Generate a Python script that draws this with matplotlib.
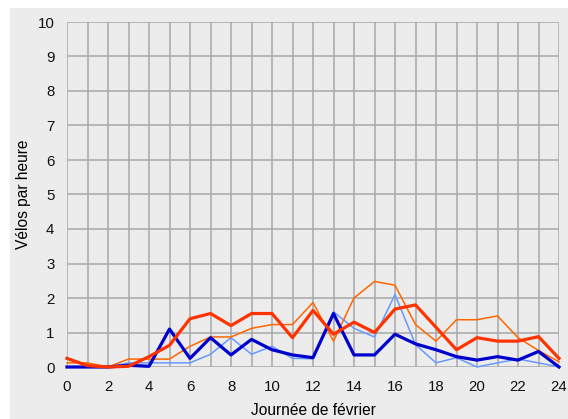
import matplotlib
matplotlib.use("Agg")
import matplotlib.pyplot as plt
from matplotlib.patches import Rectangle

hours = list(range(25))
dark_blue = [0, 0, 0, 0.05, 0.02, 1.1, 0.25, 0.85, 0.35, 0.8, 0.5, 0.35, 0.27,
             1.55, 0.35, 0.35, 0.95, 0.67, 0.5, 0.3, 0.2, 0.3, 0.2, 0.45, 0]
light_blue = [0, 0, 0, 0.12, 0.12, 0.12, 0.12, 0.37, 0.85, 0.37, 0.6, 0.25, 0.24,
              1.6, 1.12, 0.87, 2.1, 0.65, 0.12, 0.27, 0, 0.12, 0.23, 0.12, 0]
red = [0.25, 0.04, 0, 0.02, 0.3, 0.63, 1.4, 1.55, 1.2, 1.55, 1.55, 0.85, 1.64,
       0.95, 1.3, 1.0, 1.68, 1.8, 1.15, 0.5, 0.85, 0.75, 0.75, 0.88, 0.25]
orange = [0.12, 0.12, 0, 0.23, 0.23, 0.23, 0.6, 0.87, 0.87, 1.12, 1.23, 1.23, 1.87,
          0.75, 2.0, 2.48, 2.37, 1.23, 0.75, 1.37, 1.37, 1.48, 0.85, 0.48, 0.15]

xticks = list(range(0, 25, 2))
yticks = list(range(0, 11))

plt.rcParams['font.family'] = ['Liberation Sans', 'DejaVu Sans']
fig = plt.figure(figsize=(5.68, 4.19), dpi=100)
fig.patches.append(Rectangle((10/568, 0), 1 - 10/568, 1 - 8/419,
                             transform=fig.transFigure, facecolor='#ececec',
                             edgecolor='none', zorder=-10))
ax = fig.add_axes([67/568, 1 - 367/419, (559 - 67)/568, (367 - 22)/419])
ax.set_facecolor('#ececec')
ax.set_xlim(0, 24)
ax.set_ylim(0, 10)
ax.set_xticks(range(0, 25))
ax.set_xticklabels([str(h) if h in xticks else '' for h in range(25)])
ax.set_yticks(yticks)
ax.grid(True, color='#a8a8a8', linewidth=1.1)
ax.set_axisbelow(True)
for s in ax.spines.values():
    s.set_visible(False)
ax.tick_params(length=0, labelsize=10.8, colors='#111111')
ax.tick_params(axis='x', pad=9)
ax.tick_params(axis='y', pad=9)

ax.plot(hours, light_blue, color='#6699ff', linewidth=1.1, clip_on=False)
ax.plot(hours, orange, color='#ff6600', linewidth=1.1, clip_on=False)
ax.plot(hours, dark_blue, color='#0000cc', linewidth=2.3, clip_on=False)
ax.plot(hours, red, color='#ff3300', linewidth=2.3, clip_on=False)

ax.set_xlabel('Journée de février', fontsize=11.2, labelpad=7)
ax.set_ylabel('Vélos par heure', fontsize=11.2, labelpad=5)

fig.savefig('out.png', dpi=100)
